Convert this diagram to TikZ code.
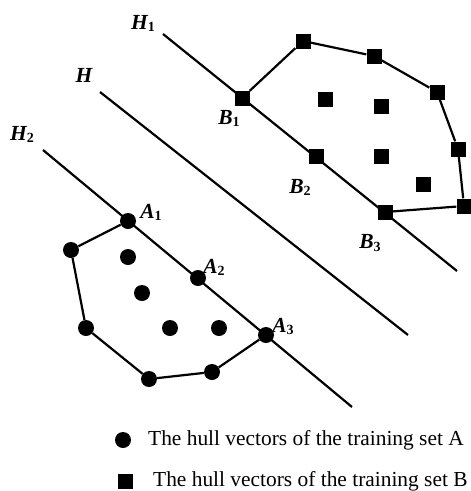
\documentclass[tikz,border=0pt]{standalone}
\usepackage{fontspec}
\setmainfont{Liberation Serif}
\newcommand{\lbl}[2]{{\fontsize{21.5}{23}\selectfont\bfseries\itshape #1}\raisebox{-0.45ex}{\fontsize{14}{15}\selectfont\bfseries #2}}
\begin{document}
\begin{tikzpicture}[x=1pt,y=-1pt,
  sq/.style={rectangle,fill=black,inner sep=0pt,minimum size=15pt},
  dot/.style={circle,fill=black,inner sep=0pt,minimum size=16pt},
  hline/.style={line width=2.2pt},
  edge/.style={line width=2.2pt},
  lab/.style={inner sep=0pt,anchor=center},
  legtext/.style={inner sep=0pt,anchor=west,font=\fontsize{21.4}{23}\selectfont}]
\useasboundingbox (0,0) rectangle (471,491);
% separating lines
\coordinate (h1s) at (163,34);  \coordinate (h1e) at (457,271);
\coordinate (hs)  at (100,92);  \coordinate (he)  at (408,335);
\coordinate (h2s) at (43,150);  \coordinate (h2e) at (352,407);
\draw[hline] (h1s) -- (h1e);
\draw[hline] (hs) -- (he);
\draw[hline] (h2s) -- (h2e);
% set B
\node[sq] (b1) at (242,98) {};
\node[sq] (b2) at (316,156) {};
\node[sq] (b3) at (385,212) {};
\node[sq] (bt1) at (303,41) {};
\node[sq] (bt2) at (374,56) {};
\node[sq] (bt3) at (437,92) {};
\node[sq] (bt4) at (458,149) {};
\node[sq] (bt5) at (464,206) {};
\node[sq] (bi1) at (325,99) {};
\node[sq] (bi2) at (381,106) {};
\node[sq] (bi3) at (381,156) {};
\node[sq] (bi4) at (423,184) {};
\draw[edge] (b1) -- (bt1) -- (bt2) -- (bt3) -- (bt4) -- (bt5) -- (b3);
% set A
\node[dot] (a1) at (128,221) {};
\node[dot] (a2) at (198,278) {};
\node[dot] (a3) at (266,335) {};
\node[dot] (at1) at (71,250) {};
\node[dot] (at2) at (86,328) {};
\node[dot] (at3) at (149,379) {};
\node[dot] (at4) at (212,372) {};
\node[dot] (ai1) at (128,257) {};
\node[dot] (ai2) at (142,293) {};
\node[dot] (ai3) at (170,328) {};
\node[dot] (ai4) at (219,328) {};
\draw[edge] (a1) -- (at1) -- (at2) -- (at3) -- (at4) -- (a3);
% labels
\node[lab] (lh1) at (143,23) {\lbl{H}{1}};
\node[lab] (lh)  at (84,76) {\lbl{H}{}};
\node[lab] (lh2) at (22,134) {\lbl{H}{2}};
\node[lab] (lb1) at (229,118) {\lbl{B}{1}};
\node[lab] (lb2) at (300,187) {\lbl{B}{2}};
\node[lab] (lb3) at (370,243) {\lbl{B}{3}};
\node[lab] (la1) at (151,212) {\lbl{A}{1}};
\node[lab] (la2) at (214,267) {\lbl{A}{2}};
\node[lab] (la3) at (283,326) {\lbl{A}{3}};
% legend
\node[dot,minimum size=16pt] (legA) at (123,440) {};
\node[legtext] (legAt) at (148,440) {The hull vectors of the training set A};
\node[sq] (legB) at (125,481) {};
\node[legtext] (legBt) at (153,481) {The hull vectors of the training set B};
\end{tikzpicture}
\end{document}
